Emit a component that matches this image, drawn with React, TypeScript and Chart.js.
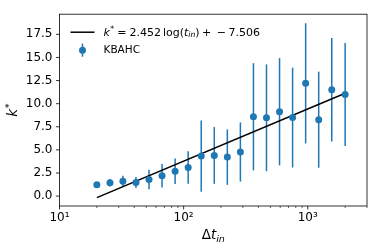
import React, { useEffect, useRef } from "react";
import { Chart, registerables } from "chart.js";

Chart.register(...registerables);

// ---- data ----
const tIn = [20, 25.5, 32.4, 41.3, 52.6, 67.0, 85.4, 108.8, 138.6, 176.5, 224.9, 286.5, 365.0, 465.0, 592.4, 754.7, 961.4, 1224.8, 1560.4, 2000];
const kStar = [1.23, 1.45, 1.62, 1.48, 1.8, 2.2, 2.7, 3.1, 4.33, 4.4, 4.22, 4.77, 8.58, 8.47, 9.13, 8.5, 12.2, 8.27, 11.5, 11.0];
const kErr = [0.25, 0.4, 0.57, 0.6, 1.05, 1.28, 1.38, 1.75, 3.85, 3.07, 3.0, 3.2, 5.8, 5.78, 5.8, 5.4, 6.5, 5.2, 5.6, 5.57];
const fitT = [20, 2000];
const fitK = [-0.16, 11.131];
const xTicks = [10, 100, 1000];
const xTickLabels = ["10¹", "10²", "10³"];
const yTicks = [0, 2.5, 5, 7.5, 10, 12.5, 15, 17.5];
const seriesLabel = "KBAHC";

const BLUE = "#1f77b4";
const FONT = "'DejaVu Sans'";

type Piece = { t: string; size: number; italic?: boolean; dy?: number; gap?: number };

function drawPieces(ctx: CanvasRenderingContext2D, x: number, y: number, pieces: Piece[]) {
  let cx = x;
  for (const p of pieces) {
    ctx.font = `${p.italic ? "italic " : ""}${p.size}px ${FONT}`;
    ctx.fillText(p.t, cx, y + (p.dy || 0));
    cx += ctx.measureText(p.t).width + (p.gap || 0);
  }
  return cx - x;
}
function measurePieces(ctx: CanvasRenderingContext2D, pieces: Piece[]) {
  let w = 0;
  for (const p of pieces) {
    ctx.font = `${p.italic ? "italic " : ""}${p.size}px ${FONT}`;
    w += ctx.measureText(p.t).width + (p.gap || 0);
  }
  return w;
}

const decorPlugin = {
  id: "decor",
  beforeDatasetsDraw(chart: any) {
    const ctx = chart.ctx as CanvasRenderingContext2D;
    const xs = chart.scales.x;
    const ys = chart.scales.y;
    ctx.save();
    ctx.strokeStyle = BLUE;
    ctx.lineWidth = 1.5;
    for (let i = 0; i < tIn.length; i++) {
      const px = xs.getPixelForValue(tIn[i]);
      ctx.beginPath();
      ctx.moveTo(px, ys.getPixelForValue(kStar[i] - kErr[i]));
      ctx.lineTo(px, ys.getPixelForValue(kStar[i] + kErr[i]));
      ctx.stroke();
    }
    ctx.restore();
  },
  afterDraw(chart: any) {
    const ctx = chart.ctx as CanvasRenderingContext2D;
    const a = chart.chartArea;
    const xs = chart.scales.x;
    const ys = chart.scales.y;
    ctx.save();
    // frame
    ctx.strokeStyle = "#000";
    ctx.lineWidth = 0.8;
    ctx.strokeRect(a.left, a.top, a.right - a.left, a.bottom - a.top);
    // ticks
    ctx.beginPath();
    for (const v of yTicks) {
      const py = ys.getPixelForValue(v);
      ctx.moveTo(a.left, py);
      ctx.lineTo(a.left - 3.5, py);
    }
    for (const v of xTicks) {
      const px = xs.getPixelForValue(v);
      ctx.moveTo(px, a.bottom);
      ctx.lineTo(px, a.bottom + 3.5);
    }
    ctx.stroke();
    ctx.lineWidth = 0.6;
    ctx.beginPath();
    for (const d of xTicks) {
      for (let m = 2; m <= 9; m++) {
        const v = d * m;
        if (v > xs.max) continue;
        const px = xs.getPixelForValue(v);
        ctx.moveTo(px, a.bottom);
        ctx.lineTo(px, a.bottom + 2);
      }
    }
    ctx.stroke();

    ctx.fillStyle = "#000";
    ctx.textBaseline = "alphabetic";
    // x title
    const xt: Piece[] = [
      { t: "Δ", size: 13.5 },
      { t: "t", size: 13.5, italic: true },
      { t: "in", size: 9.5, italic: true, dy: 2.5 },
    ];
    const xw = measurePieces(ctx, xt);
    drawPieces(ctx, (a.left + a.right) / 2 - xw / 2, 239, xt);
    // y title
    const yt: Piece[] = [
      { t: "k", size: 13.5, italic: true, gap: 0.5 },
      { t: "*", size: 9.5, dy: -5 },
    ];
    const yw = measurePieces(ctx, yt);
    ctx.save();
    ctx.translate(17, (a.top + a.bottom) / 2);
    ctx.rotate(-Math.PI / 2);
    drawPieces(ctx, -yw / 2, 0, yt);
    ctx.restore();

    // legend
    const lx = a.left + 11;
    const ly1 = a.top + 18;
    const ly2 = a.top + 36;
    ctx.strokeStyle = "#000";
    ctx.lineWidth = 1.5;
    ctx.beginPath();
    ctx.moveTo(lx, ly1);
    ctx.lineTo(lx + 24, ly1);
    ctx.stroke();
    ctx.strokeStyle = BLUE;
    ctx.beginPath();
    ctx.moveTo(lx + 12, ly2 - 6.5);
    ctx.lineTo(lx + 12, ly2 + 6.5);
    ctx.stroke();
    ctx.fillStyle = BLUE;
    ctx.beginPath();
    ctx.arc(lx + 12, ly2, 3.5, 0, Math.PI * 2);
    ctx.fill();

    ctx.fillStyle = "#000";
    ctx.textBaseline = "middle";
    const F = 11;
    const eq: Piece[] = [
      { t: "k", size: F, italic: true, gap: 0.5 },
      { t: "*", size: F * 0.7, dy: -4, gap: F * 0.28 },
      { t: "=", size: F, gap: F * 0.28 },
      { t: "2.452", size: F, gap: F * 0.17 },
      { t: "log(", size: F },
      { t: "t", size: F, italic: true },
      { t: "in", size: F * 0.7, italic: true, dy: 2.5 },
      { t: ")", size: F, gap: F * 0.22 },
      { t: "+", size: F, gap: F * 0.5 },
      { t: "−", size: F, gap: F * 0.22 },
      { t: "7.506", size: F },
    ];
    drawPieces(ctx, lx + 33, ly1 + 0.5, eq);
    ctx.font = `${10.5}px ${FONT}`;
    ctx.fillText(seriesLabel, lx + 33, ly2 + 0.5);
    ctx.restore();
  },
};

export default function App() {
  const ref = useRef<HTMLCanvasElement | null>(null);
  useEffect(() => {
    document.body.style.margin = "0";
    const chart = new Chart(ref.current as HTMLCanvasElement, {
      type: "scatter",
      data: {
        datasets: [
          {
            label: seriesLabel,
            data: tIn.map((t, i) => ({ x: t, y: kStar[i] })),
            backgroundColor: BLUE,
            borderWidth: 0,
            pointRadius: 3.5,
            pointHoverRadius: 3.5,
            showLine: false,
          },
          {
            label: "fit",
            data: fitT.map((t, i) => ({ x: t, y: fitK[i] })),
            borderColor: "#000",
            borderWidth: 1.5,
            pointRadius: 0,
            showLine: true,
          },
        ],
      },
      options: {
        animation: false,
        responsive: true,
        maintainAspectRatio: false,
        layout: { padding: { top: 6, right: 7, left: 0, bottom: 0 } },
        plugins: { legend: { display: false }, tooltip: { enabled: false } },
        scales: {
          x: {
            type: "logarithmic",
            min: 10,
            max: 3000,
            grid: { display: false, drawTicks: false },
            border: { display: false },
            afterBuildTicks: (s: any) => {
              s.ticks = xTicks.map((v) => ({ value: v, major: true }));
            },
            afterFit: (s: any) => {
              s.height = 44;
            },
            ticks: {
              autoSkip: false,
              maxRotation: 0,
              padding: 5,
              color: "#000",
              font: { family: "DejaVu Sans", size: 12 },
              callback: (_v: any, i: number) => xTickLabels[i],
            },
          },
          y: {
            type: "linear",
            min: -1.07,
            max: 19.68,
            grid: { display: false, drawTicks: false },
            border: { display: false },
            afterBuildTicks: (s: any) => {
              s.ticks = yTicks.map((v) => ({ value: v }));
            },
            afterFit: (s: any) => {
              s.width = 59.5;
            },
            ticks: {
              padding: 7,
              color: "#000",
              font: { family: "DejaVu Sans", size: 12 },
              callback: (v: any) => Number(v).toFixed(1),
            },
          },
        },
      } as any,
      plugins: [decorPlugin],
    });
    return () => chart.destroy();
  }, []);
  return (
    <div style={{ position: "relative", width: 374, height: 250 }}>
      <canvas ref={ref} />
    </div>
  );
}
